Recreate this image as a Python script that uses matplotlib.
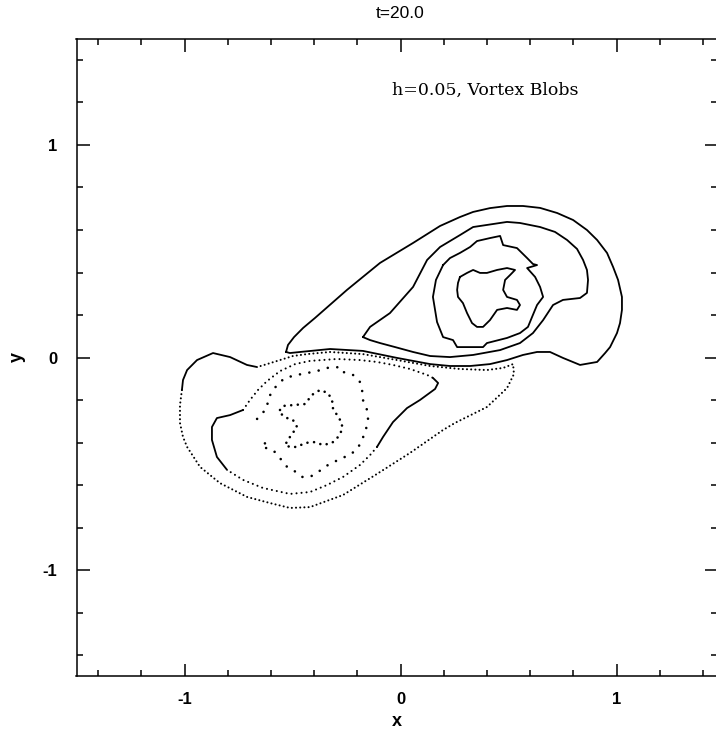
import matplotlib
matplotlib.use('Agg')
import matplotlib.pyplot as plt
from matplotlib.ticker import MultipleLocator


# ---------------------------------------------------------
#                      data
# ---------------------------------------------------------

TITLE = 't=20.0'
NOTE = 'h=0.05, Vortex Blobs'

# positive vorticity contours (solid), right vortex
c1_x = [-0.530, -0.521, -0.493, -0.451, -0.396, -0.248, -0.095, 0.058, 0.183, 0.275,
        0.336, 0.414, 0.493, 0.567, 0.646, 0.725, 0.799, 0.863, 0.910, 0.956,
        0.984, 1.007, 1.025, 1.025, 1.016, 1.002, 0.970, 0.947, 0.910,
        0.831, 0.752, 0.692, 0.632, 0.567, 0.493, 0.414, 0.322, 0.229, 0.137,
        -0.016, -0.174, -0.326, -0.465, -0.512, -0.530]
c1_y = [0.026, 0.059, 0.096, 0.139, 0.186, 0.318, 0.445, 0.539, 0.619, 0.661,
        0.685, 0.703, 0.713, 0.713, 0.704, 0.680, 0.647, 0.600, 0.553, 0.492,
        0.426, 0.365, 0.285, 0.224, 0.162, 0.115, 0.049, 0.021, -0.021,
        -0.035, -0.002, 0.026, 0.026, 0.012, -0.012, -0.031, -0.040, -0.040, -0.031,
        -0.002, 0.031, 0.040, 0.026, 0.021, 0.026]

c2_x = [-0.174, -0.141, -0.049, 0.058, 0.123, 0.183, 0.275, 0.336, 0.493, 0.553,
        0.646, 0.715, 0.771, 0.817, 0.845, 0.863, 0.868, 0.863, 0.831, 0.752,
        0.706, 0.660, 0.613, 0.553, 0.461, 0.336, 0.229, 0.137, 0.058, -0.025,
        -0.095, -0.141, -0.174]
c2_y = [0.096, 0.144, 0.209, 0.332, 0.459, 0.520, 0.576, 0.614, 0.638, 0.633,
        0.614, 0.591, 0.553, 0.511, 0.459, 0.412, 0.365, 0.304, 0.280, 0.271,
        0.247, 0.176, 0.115, 0.068, 0.035, 0.012, 0.002, 0.007, 0.026, 0.049,
        0.068, 0.082, 0.096]

c3_x = [0.197, 0.229, 0.275, 0.322, 0.354, 0.414, 0.461, 0.475, 0.539, 0.586,
        0.613, 0.632, 0.586, 0.623, 0.646, 0.660, 0.632, 0.609, 0.590, 0.553,
        0.493, 0.400, 0.382, 0.308, 0.262, 0.243, 0.197, 0.169, 0.150, 0.164, 0.197]
c3_y = [0.435, 0.468, 0.492, 0.520, 0.548, 0.562, 0.572, 0.529, 0.515, 0.468,
        0.440, 0.435, 0.421, 0.379, 0.332, 0.285, 0.247, 0.191, 0.144, 0.115,
        0.092, 0.068, 0.049, 0.049, 0.049, 0.082, 0.096, 0.167, 0.285, 0.365, 0.435]

c4_x = [0.275, 0.308, 0.336, 0.368, 0.400, 0.447, 0.493, 0.530, 0.507, 0.484,
        0.475, 0.493, 0.539, 0.553, 0.539, 0.493, 0.447, 0.414, 0.382, 0.354,
        0.331, 0.308, 0.289, 0.266, 0.262, 0.266, 0.275]
c4_y = [0.379, 0.398, 0.412, 0.398, 0.398, 0.412, 0.421, 0.412, 0.388, 0.365,
        0.318, 0.285, 0.271, 0.247, 0.224, 0.233, 0.224, 0.176, 0.144, 0.144,
        0.162, 0.209, 0.256, 0.285, 0.318, 0.351, 0.379]

# negative vorticity contours (dotted), left vortex
# outer contour: solid shoulder + dotted remainder
d1s_x = [-0.664, -0.711, -0.789, -0.868, -0.942, -0.988, -1.007, -1.012]
d1s_y = [-0.045, -0.035, 0.002, 0.021, -0.012, -0.059, -0.106, -0.153]
d1_x = [-1.012, -1.021, -1.021, -1.007, -0.988, -0.928, -0.836, -0.711, -0.604, -0.512,
        -0.419, -0.266, -0.109, 0.044, 0.197, 0.252, 0.400, 0.493, 0.525, 0.521,
        0.475, 0.400, 0.275, 0.137, -0.016, -0.174, -0.326, -0.433, -0.498, -0.558,
        -0.618, -0.664]
d1_y = [-0.153, -0.224, -0.308, -0.374, -0.421, -0.515, -0.591, -0.656, -0.685, -0.708,
        -0.704, -0.647, -0.548, -0.449, -0.341, -0.308, -0.233, -0.144, -0.078, -0.031,
        -0.049, -0.059, -0.054, -0.040, -0.012, 0.016, 0.026, 0.016, 0.007, -0.012,
        -0.031, -0.045]

# second contour: two solid stretches joined by dots
d2r_x = [0.150, 0.174, 0.160, 0.090, 0.030, -0.035, -0.081, -0.109]
d2r_y = [-0.096, -0.120, -0.148, -0.200, -0.238, -0.304, -0.374, -0.421]
d2b_x = [-0.109, -0.141, -0.188, -0.266, -0.340, -0.419, -0.512, -0.637, -0.729, -0.803]
d2b_y = [-0.421, -0.459, -0.506, -0.562, -0.600, -0.633, -0.642, -0.614, -0.576, -0.529]
d2l_x = [-0.803, -0.850, -0.873, -0.873, -0.850, -0.789, -0.729]
d2l_y = [-0.529, -0.468, -0.388, -0.327, -0.285, -0.271, -0.247]
d2t_x = [-0.729, -0.697, -0.660, -0.618, -0.558, -0.488, -0.419, -0.294, -0.188, -0.109,
         -0.035, 0.044, 0.123, 0.150]
d2t_y = [-0.247, -0.200, -0.153, -0.111, -0.064, -0.031, -0.016, -0.007, -0.012, -0.021,
         -0.035, -0.054, -0.082, -0.096]

d3_x = [-0.664, -0.618, -0.613, -0.572, -0.535, -0.479, -0.433, -0.387, -0.340, -0.280,
        -0.266, -0.220, -0.188, -0.178, -0.174, -0.155, -0.150, -0.164, -0.197, -0.234,
        -0.271, -0.336, -0.382, -0.419, -0.456, -0.475, -0.525, -0.581, -0.613, -0.641,
        -0.618]
d3_y = [-0.289, -0.238, -0.191, -0.129, -0.096, -0.082, -0.073, -0.064, -0.049, -0.045,
        -0.068, -0.082, -0.115, -0.153, -0.200, -0.247, -0.294, -0.355, -0.426, -0.459,
        -0.473, -0.506, -0.539, -0.562, -0.562, -0.544, -0.515, -0.445, -0.426, -0.426,
        -0.388]

d4_x = [-0.558, -0.544, -0.498, -0.442, -0.410, -0.373, -0.336, -0.317, -0.313, -0.294,
        -0.271, -0.271, -0.289, -0.317, -0.359, -0.396, -0.442, -0.479, -0.512, -0.535,
        -0.512, -0.479, -0.498, -0.525, -0.548, -0.558]
d4_y = [-0.247, -0.228, -0.224, -0.219, -0.176, -0.153, -0.167, -0.200, -0.238, -0.271,
        -0.308, -0.341, -0.374, -0.402, -0.412, -0.398, -0.402, -0.421, -0.421, -0.412,
        -0.374, -0.327, -0.294, -0.285, -0.271, -0.247]


# ---------------------------------------------------------
#                      plot
# ---------------------------------------------------------

def solid(ax, x, y):
    ax.plot(x, y, color='k', linewidth=1.3, solid_capstyle='round', solid_joinstyle='round')


def dotted(ax, x, y, gap, lw=1.5):
    ax.plot(x, y, color='k', linewidth=lw, linestyle=(0, (0.01, gap)),
            dash_capstyle='round')


plt.rcParams['axes.unicode_minus'] = False
plt.rcParams['font.family'] = ['Liberation Sans', 'DejaVu Sans']

fig = plt.figure(figsize=(7.16, 7.32), dpi=100)
# right spine sits just past the image edge, as in the scanned original
ax = fig.add_axes([76.5 / 716, 55.75 / 732, 640.5 / 716, 637.5 / 732])

for x, y in [(c1_x, c1_y), (c2_x, c2_y), (c3_x, c3_y), (c4_x, c4_y)]:
    solid(ax, x, y)

solid(ax, d1s_x, d1s_y)
dotted(ax, d1_x, d1_y, 2.0)
solid(ax, d2r_x, d2r_y)
dotted(ax, d2b_x, d2b_y, 2.4)
solid(ax, d2l_x, d2l_y)
dotted(ax, d2t_x, d2t_y, 2.4)
dotted(ax, d3_x, d3_y, 3.6, lw=1.9)
dotted(ax, d4_x, d4_y, 2.5, lw=1.9)

ax.text(-0.039, 1.259, NOTE, family='DejaVu Serif', fontsize=12.5, ha='left', va='center')

# formatting
ax.set_xlim(-1.5, 1.465)
ax.set_ylim(-1.5, 1.5)
ax.set_xticks([-1, 0, 1])
ax.set_yticks([-1, 0, 1])
ax.xaxis.set_minor_locator(MultipleLocator(0.2))
ax.yaxis.set_minor_locator(MultipleLocator(0.2))
ax.tick_params(which='both', direction='in', top=True, right=True, width=1.1)
ax.tick_params(which='major', length=9)
ax.tick_params(which='minor', length=4.5)
ax.tick_params(axis='x', pad=11, labelsize=12)
ax.tick_params(axis='y', pad=14, labelsize=12)
for lbl in ax.get_xticklabels() + ax.get_yticklabels():
    lbl.set_fontweight('bold')
for s in ax.spines.values():
    s.set_linewidth(1.1)

ax.set_xlabel('x', fontsize=13, fontweight='bold', labelpad=5)
ax.set_ylabel('y', fontsize=13, fontweight='bold', labelpad=12)
fig.text(400.5 / 716, 1 - 13 / 732, TITLE, fontsize=12.5, ha='center', va='center')

fig.savefig('out.png', dpi=100)
